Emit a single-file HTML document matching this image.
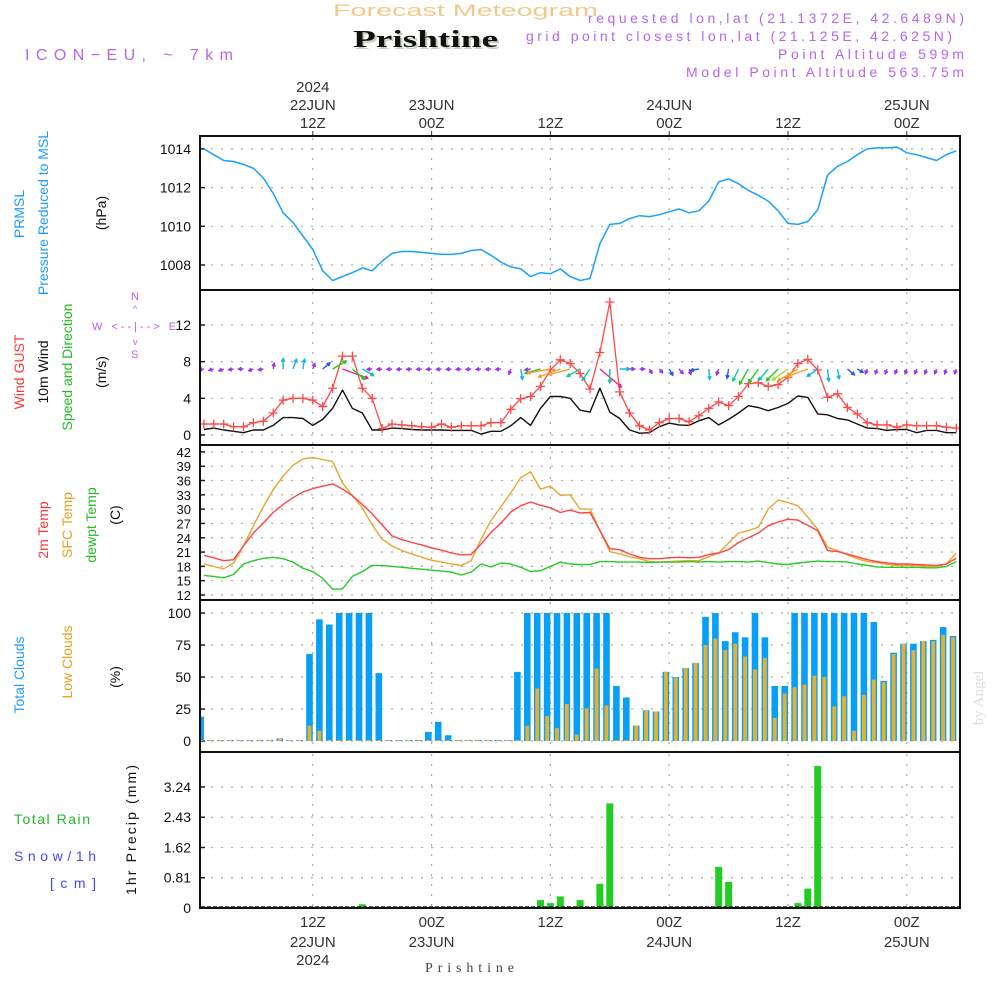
<!DOCTYPE html>
<html><head><meta charset="utf-8"><title>Forecast Meteogram - Prishtine</title>
<style>
html,body{margin:0;padding:0;background:#fff;}
svg{display:block;font-family:"Liberation Sans",sans-serif;}
</style></head>
<body>
<svg id="chart" xmlns="http://www.w3.org/2000/svg" width="1000" height="1000" viewBox="0 0 1000 1000">
<rect x="0" y="0" width="1000" height="1000" fill="#fff"/>
<defs>
<clipPath id="plotclip"><rect x="201" y="137" width="758" height="771"/></clipPath>
</defs>
<!-- header -->
<text x="333" y="16" textLength="265" lengthAdjust="spacingAndGlyphs" font-size="17" fill="#f2c98a">Forecast Meteogram</text>
<text x="355" y="49" textLength="145" lengthAdjust="spacingAndGlyphs" font-size="24" font-weight="bold" font-family="Liberation Serif, serif" fill="#c4d0bc">Prishtine</text>
<text x="353" y="47" textLength="145" lengthAdjust="spacingAndGlyphs" font-size="24" font-weight="bold" font-family="Liberation Serif, serif" fill="#111">Prishtine</text>
<text x="25" y="60" textLength="208" lengthAdjust="spacing" font-size="16" fill="#b366f0">ICON−EU, ~ 7km</text>
<text x="588" y="23" textLength="376" lengthAdjust="spacing" font-size="14" fill="#b366f0">requested lon,lat (21.1372E, 42.6489N)</text>
<text x="526" y="41" textLength="426" lengthAdjust="spacing" font-size="14" fill="#b366f0">grid point closest lon,lat (21.125E, 42.625N)</text>
<text x="778" y="59" textLength="186" lengthAdjust="spacing" font-size="14" fill="#b366f0">Point Altitude 599m</text>
<text x="686" y="77" textLength="278" lengthAdjust="spacing" font-size="14" fill="#b366f0">Model Point Altitude 563.75m</text>
<text transform="translate(983,698) rotate(-90)" text-anchor="middle" font-size="15" font-family="Liberation Serif, serif" fill="#ddd">by Angel</text>
<text x="425" y="972" textLength="89" lengthAdjust="spacing" font-size="14" font-family="Liberation Serif, serif" fill="#444">Prishtine</text>

<!-- left labels -->
<g font-size="14">
<text transform="translate(24,214) rotate(-90)" text-anchor="middle" fill="#1e9bff">PRMSL</text>
<text transform="translate(48,213) rotate(-90)" text-anchor="middle" fill="#1e9bff">Pressure Reduced to MSL</text>
<text transform="translate(106,213) rotate(-90)" text-anchor="middle" fill="#111">(hPa)</text>
<text transform="translate(24,372) rotate(-90)" text-anchor="middle" fill="#ff3333">Wind GUST</text>
<text transform="translate(48,372) rotate(-90)" text-anchor="middle" fill="#111">10m Wind</text>
<text transform="translate(72,367) rotate(-90)" text-anchor="middle" fill="#22bb22">Speed and Direction</text>
<text transform="translate(106,372) rotate(-90)" text-anchor="middle" fill="#111">(m/s)</text>
<text transform="translate(48,530) rotate(-90)" text-anchor="middle" fill="#ff3333">2m Temp</text>
<text transform="translate(72,525) rotate(-90)" text-anchor="middle" fill="#e8a020">SFC Temp</text>
<text transform="translate(96,525) rotate(-90)" text-anchor="middle" fill="#22bb22">dewpt Temp</text>
<text transform="translate(120,515) rotate(-90)" text-anchor="middle" fill="#111">(C)</text>
<text transform="translate(24,675) rotate(-90)" text-anchor="middle" fill="#1e9bff">Total Clouds</text>
<text transform="translate(72,662) rotate(-90)" text-anchor="middle" fill="#e8a020">Low Clouds</text>
<text transform="translate(120,677) rotate(-90)" text-anchor="middle" fill="#111">(%)</text>
<text transform="translate(136,830) rotate(-90)" text-anchor="middle" textLength="130" lengthAdjust="spacing" fill="#111">1hr Precip (mm)</text>
<text x="14" y="824" textLength="76" lengthAdjust="spacing" fill="#22bb22">Total  Rain</text>
<text x="14" y="861" textLength="82" lengthAdjust="spacing" fill="#4444ff">Snow/1h</text>
<text x="50" y="888" textLength="46" lengthAdjust="spacing" fill="#4444ff">[cm]</text>
</g>
<g font-size="11" fill="#b366f0">
<text x="131" y="300">N</text>
<text x="92" y="330" textLength="84" lengthAdjust="spacing">W &lt;--|--&gt; E</text>
<text x="131" y="358">S</text>
<text x="133" y="312" font-size="9">^</text>
<text x="133" y="345" font-size="9">v</text>
</g>
<g id="plot"></g>
</svg>
<script>
// ---- data (hours since 00Z 22JUN; index 0 = hour 1) ----
const startHour = 1;
const pressure = [1014.0,1013.7,1013.4,1013.35,1013.2,1013.0,1012.5,1011.7,1010.7,1010.2,1009.5,1008.8,1007.7,1007.2,1007.4,1007.6,1007.85,1007.7,1008.2,1008.6,1008.7,1008.7,1008.65,1008.6,1008.55,1008.55,1008.6,1008.75,1008.8,1008.5,1008.15,1007.9,1007.8,1007.4,1007.6,1007.55,1007.8,1007.4,1007.2,1007.3,1009.1,1010.1,1010.15,1010.4,1010.55,1010.5,1010.6,1010.75,1010.9,1010.7,1010.8,1011.3,1012.3,1012.45,1012.2,1011.85,1011.6,1011.3,1010.8,1010.15,1010.1,1010.25,1010.85,1012.65,1013.1,1013.35,1013.7,1014.0,1014.05,1014.05,1014.1,1013.8,1013.7,1013.55,1013.4,1013.7,1013.9];
const gust = [1.2,1.2,1.2,0.9,0.9,1.35,1.5,2.4,3.8,4.0,4.0,3.8,3.1,5.1,8.6,8.6,5.1,4.0,0.7,1.2,1.1,1.0,0.9,0.85,1.2,0.85,1.0,1.0,1.0,1.35,1.35,2.8,3.96,4.2,5.3,7.1,8.2,7.8,6.7,5.0,9.0,14.5,4.7,2.4,1.0,0.55,1.35,1.8,1.8,1.45,2.1,2.9,3.6,3.2,4.2,5.6,5.7,5.3,5.5,6.3,7.8,8.25,7.1,4.1,4.5,3.0,2.3,1.35,1.1,1.1,0.85,1.1,1.0,1.0,1.0,0.85,0.75];
const windSpeed = [0.6,0.75,0.55,0.4,0.25,0.55,0.55,1.05,1.9,1.9,1.8,1.05,1.7,2.9,4.9,2.9,2.4,0.55,0.55,0.75,0.7,0.6,0.55,0.55,0.55,0.5,0.5,0.5,0.1,0.4,0.4,1.0,1.9,1.05,2.9,4.2,4.2,4.0,2.7,2.5,5.1,2.5,1.8,0.55,0.2,0.25,0.9,1.3,1.1,1.05,1.55,1.9,1.1,1.7,2.4,3.2,3.0,2.65,3.0,3.45,4.25,4.1,2.3,2.2,1.8,1.65,1.2,0.75,0.7,0.5,0.6,0.6,0.25,0.5,0.5,0.25,0.25];
const windDir = [80,75,70,80,90,70,80,190,180,200,190,200,230,240,290,310,300,85,85,85,85,85,85,85,85,85,85,85,85,85,85,20,350,80,75,80,70,75,60,35,310,0,270,270,270,330,320,330,320,340,80,355,20,10,25,30,35,40,45,55,60,70,55,355,350,310,300,20,20,20,20,20,20,20,20,20,20];
const temp2m = [20.3,19.8,19.2,19.4,22.3,25.0,27.1,29.3,31.0,32.4,33.6,34.3,34.8,35.3,34.2,32.8,31.0,29.0,26.7,24.4,23.6,23.0,22.5,21.9,21.4,20.8,20.4,20.5,22.7,25.1,27.1,29.4,30.7,31.5,30.8,30.3,29.3,29.8,29.2,29.3,25.5,21.7,21.5,20.6,19.9,19.6,19.6,19.8,19.9,19.8,19.9,20.5,20.8,21.5,23.0,24.0,25.0,26.5,27.3,27.9,27.7,26.6,25.5,21.3,21.1,20.6,20.0,19.4,19.0,18.7,18.5,18.5,18.4,18.3,18.2,18.5,19.7];
const sfcTemp = [18.5,18.0,17.5,18.7,22.3,26.5,30.5,34.1,36.9,39.2,40.5,40.8,40.4,40.0,35.5,32.8,30.3,26.7,23.7,22.3,21.3,20.6,19.9,19.3,18.9,18.5,18.2,19.2,23.7,27.6,30.5,33.4,36.6,37.8,34.2,34.8,32.9,33.0,30.0,30.0,25.5,21.1,20.6,20.0,19.6,19.0,18.9,19.0,19.1,19.2,19.2,20.0,20.8,22.9,25.0,25.5,26.2,30.0,31.9,31.4,30.7,28.3,25.8,22.0,21.3,20.4,19.6,19.0,18.8,18.4,18.2,18.2,18.2,18.0,18.0,18.5,20.8];
const dewpt = [16.1,15.9,15.6,16.3,18.5,19.2,19.7,19.9,19.6,18.9,17.6,16.9,15.5,13.2,13.3,15.9,16.9,18.2,18.2,18.0,17.8,17.6,17.4,17.2,17.0,16.8,16.2,16.8,18.5,17.9,18.7,18.5,17.8,16.9,17.1,18.0,18.9,18.5,18.4,18.4,19.0,19.0,18.9,18.9,18.9,18.8,18.9,18.9,18.9,19.0,18.9,19.0,18.9,19.0,19.0,18.9,19.1,18.8,18.5,18.4,18.7,18.9,19.1,19.0,19.0,18.9,18.5,18.2,17.9,17.8,17.8,17.8,17.8,17.7,17.7,18.0,19.0];
const totalCloud = [19,0,0,0,0,0,0,0,2,0,0,68,95,91,100,100,100,100,53,0,0,0,0,7,15,4.5,0,0,0,0,0,0,54,100,100,100,100,100,100,100,100,100,43,34,12,24,23,54,50,57,61,97,100,78,85,81,100,81,43,43,100,100,100,100,100,100,100,100,93,47,69,76,76,78,79,89,82];
const lowCloud = [0,0,0,0,0,0,0,0,2,0,0,12,8,0,0,0,0,0,0,0,0,0,0,0,0,0,0,0,0,0,0,0,0,12,41,19.5,10,29,5,25.5,56.6,27.8,0,0,12,24,23,54,49.6,57,61,75,80,71,76,66,56,65,18,37,42,44,51,50,27,35,8,36,48,46,68,76,71,78,78,83,81];
const precip = [0,0,0,0,0,0,0,0,0,0,0,0,0,0,0,0,0.1,0,0,0,0,0,0,0,0,0,0,0,0,0,0,0,0,0,0.21,0.13,0.31,0,0.21,0,0.65,2.8,0,0,0,0,0,0,0,0,0,0,1.1,0.7,0,0,0,0,0,0,0.13,0.52,3.8,0,0,0,0,0,0,0,0,0,0,0,0,0,0];
const pressureTicks = [1008,1010,1012,1014];
const windTicks = [0,4,8,12];
const tempTicks = [12,15,18,21,24,27,30,33,36,39,42];
const cloudTicks = [0,25,50,75,100];
const precipTicks = [0,0.81,1.62,2.43,3.24];
const timeTickHours = [12,24,36,48,60,72];
const timeTickZ = ["12Z","00Z","12Z","00Z","12Z","00Z"];
const timeTickDay = ["22JUN","23JUN","","24JUN","","25JUN"];

// ---- axis functions ----
function xH(h){ return 194 + 9.9*h; }
function yP(v){ return 265 - (v-1008)*19.35; }
function yW(v){ return 435 - v*9.17; }
function yT(v){ return 595 - (v-12)*4.77; }
function yC(v){ return 741 - v*1.28; }
function yR(v){ return 908 - v*37.35; }
const panels = [
  {name:'pressure', top:136, bot:290, ticks:pressureTicks, f:yP, fmt:v=>String(v), fs:14},
  {name:'wind', top:290, bot:445, ticks:windTicks, f:yW, fmt:v=>String(v), fs:14},
  {name:'temperature', top:445, bot:600, ticks:tempTicks, f:yT, fmt:v=>String(v), fs:13},
  {name:'clouds', top:600, bot:752, ticks:cloudTicks, f:yC, fmt:v=>String(v), fs:14},
  {name:'precip', top:752, bot:908, ticks:precipTicks, f:yR, fmt:v=>String(v), fs:14}
];
const NS='http://www.w3.org/2000/svg';
const plot=document.getElementById('plot');
function mk(tag, attrs, parent){
  const e=document.createElementNS(NS,tag);
  for(const k in attrs) e.setAttribute(k, attrs[k]);
  (parent||plot).appendChild(e);
  return e;
}
// grids
panels.forEach(p=>{
  const g=mk('g',{});
  
  
  p.ticks.forEach(t=>{
    const y=p.f(t);
    const l=mk('line',{x1:201,x2:959,y1:y,y2:y,stroke:'#aaa','stroke-width':1.2,'stroke-dasharray':'2,8'},g);
    
    
    const tk=mk('line',{x1:200,x2:205,y1:y,y2:y,stroke:'#222','stroke-width':1.5},g);
    
    
    const tx=mk('text',{x:191,y:y+5,'text-anchor':'end','font-size':p.fs,fill:'#111'},g);
    tx.textContent=p.fmt(t);
    
    
  });
  timeTickHours.forEach(h=>{
    const x=xH(h);
    const l=mk('line',{x1:x,x2:x,y1:p.top+2,y2:p.bot-1,stroke:'#aaa','stroke-width':1.2,'stroke-dasharray':'2,8'},g);
    
    
  });
});
// time labels
timeTickHours.forEach((h,i)=>{
  const x=xH(h);
  const t1=mk('text',{x:x,y:128,'text-anchor':'middle','font-size':15,fill:'#333'});
  t1.textContent=timeTickZ[i];
  
  
  const t2=mk('text',{x:x,y:927,'text-anchor':'middle','font-size':15,fill:'#333'});
  t2.textContent=timeTickZ[i];
  
  
  if(timeTickDay[i]){
    const d1=mk('text',{x:x,y:110,'text-anchor':'middle','font-size':15,fill:'#333'});
    d1.textContent=timeTickDay[i];
    
    
    const d2=mk('text',{x:x,y:947,'text-anchor':'middle','font-size':15,fill:'#333'});
    d2.textContent=timeTickDay[i];
    
    
  }
  const tk=mk('line',{x1:x,x2:x,y1:131,y2:136,stroke:'#333','stroke-width':1});
  
  
});
const yr1=mk('text',{x:xH(12),y:92,'text-anchor':'middle','font-size':15,fill:'#333'});
yr1.textContent='2024';


const yr2=mk('text',{x:xH(12),y:965,'text-anchor':'middle','font-size':15,fill:'#333'});
yr2.textContent='2024';



// series group with clip
const series=mk('g',{'clip-path':'url(#plotclip)'});


function pts(arr,f){ return arr.map((v,i)=>xH(i+startHour).toFixed(1)+','+f(v).toFixed(1)).join(' '); }
function line(arr,f,color,w,name){
  const l=mk('polyline',{points:pts(arr,f),fill:'none',stroke:color,'stroke-width':w,'stroke-linejoin':'round'},series);
  
  
  return l;
}
// clouds
totalCloud.forEach((v,i)=>{
  const x=xH(i+startHour);
  const h=Math.max(1,v*1.28);
  const b=mk('rect',{x:x-6.6,y:yC(0)-h,width:6.6,height:h,fill:'#089ff7'},series);
  
  
});
lowCloud.forEach((v,i)=>{
  const x=xH(i+startHour);
  const h=Math.max(1,v*1.28);
  const b=mk('rect',{x:x-5.2,y:yC(0)-h,width:3.8,height:h,fill:'#e6b030'},series);
  
  
});
// precip
precip.forEach((v,i)=>{
  if(v<=0) return;
  const x=xH(i+startHour);
  const h=v*37.35;
  const b=mk('rect',{x:x-3.5,y:yR(0)-h,width:7,height:h,fill:'#22cc22'},series);
  
  
});
const pz=mk('line',{x1:201,x2:959,y1:907,y2:907,stroke:'#222','stroke-width':1.5,'stroke-dasharray':'4,2'},series);


// pressure
line(pressure,yP,'#1aa0ff',1.5,'pressure-line');
// temps
line(sfcTemp,yT,'#e8a530',1.4,'sfc-temp-line');
line(temp2m,yT,'#ff4444',1.4,'temp-2m-line');
line(dewpt,yT,'#22cc22',1.4,'dewpoint-line');
// wind speed & gust
line(windSpeed,yW,'#111',1.4,'wind-speed-line');
line(gust,yW,'#ff4848',1.3,'wind-gust-line');
gust.forEach((v,i)=>{
  const x=xH(i+startHour), y=yW(v);
  const p=mk('path',{d:`M${x-4.5},${y}H${x+4.5}M${x},${y-4.5}V${y+4.5}`,stroke:'#ff4848','stroke-width':1.3,fill:'none'},series);
  
  
});
// wind arrows
function arrowColor(s){
  if(s<1.2) return '#9a30f0';
  if(s<1.8) return '#2255ff';
  if(s<2.4) return '#10b8e8';
  if(s<2.9) return '#10c8a0';
  if(s<3.4) return '#22cc22';
  if(s<4.0) return '#a8e030';
  if(s<4.6) return '#f0a030';
  return '#f02090';
}
windDir.forEach((d,i)=>{
  const s=windSpeed[i];
  const len=Math.max(5,s*5.5);
  const rad=d*Math.PI/180;
  const dx=-Math.sin(rad), dy=Math.cos(rad);
  const x0=xH(i+startHour), y0=369;
  const x1=x0+dx*len, y1=y0+dy*len;
  const ah=3.5, ang=Math.atan2(dy,dx);
  const a1x=x1-ah*Math.cos(ang-0.5), a1y=y1-ah*Math.sin(ang-0.5);
  const a2x=x1-ah*Math.cos(ang+0.5), a2y=y1-ah*Math.sin(ang+0.5);
  const c=arrowColor(s);
  const p=mk('path',{d:`M${x0.toFixed(1)},${y0}L${x1.toFixed(1)},${y1.toFixed(1)}M${a1x.toFixed(1)},${a1y.toFixed(1)}L${x1.toFixed(1)},${y1.toFixed(1)}L${a2x.toFixed(1)},${a2y.toFixed(1)}`,stroke:c,'stroke-width':1.4,fill:'none'},series);
  
  
});
// panel frames
panels.forEach(p=>{
  const r=mk('rect',{x:200,y:p.top,width:760,height:p.bot-p.top,fill:'none',stroke:'#111','stroke-width':2});
  
  
});
</script>
</body></html>
